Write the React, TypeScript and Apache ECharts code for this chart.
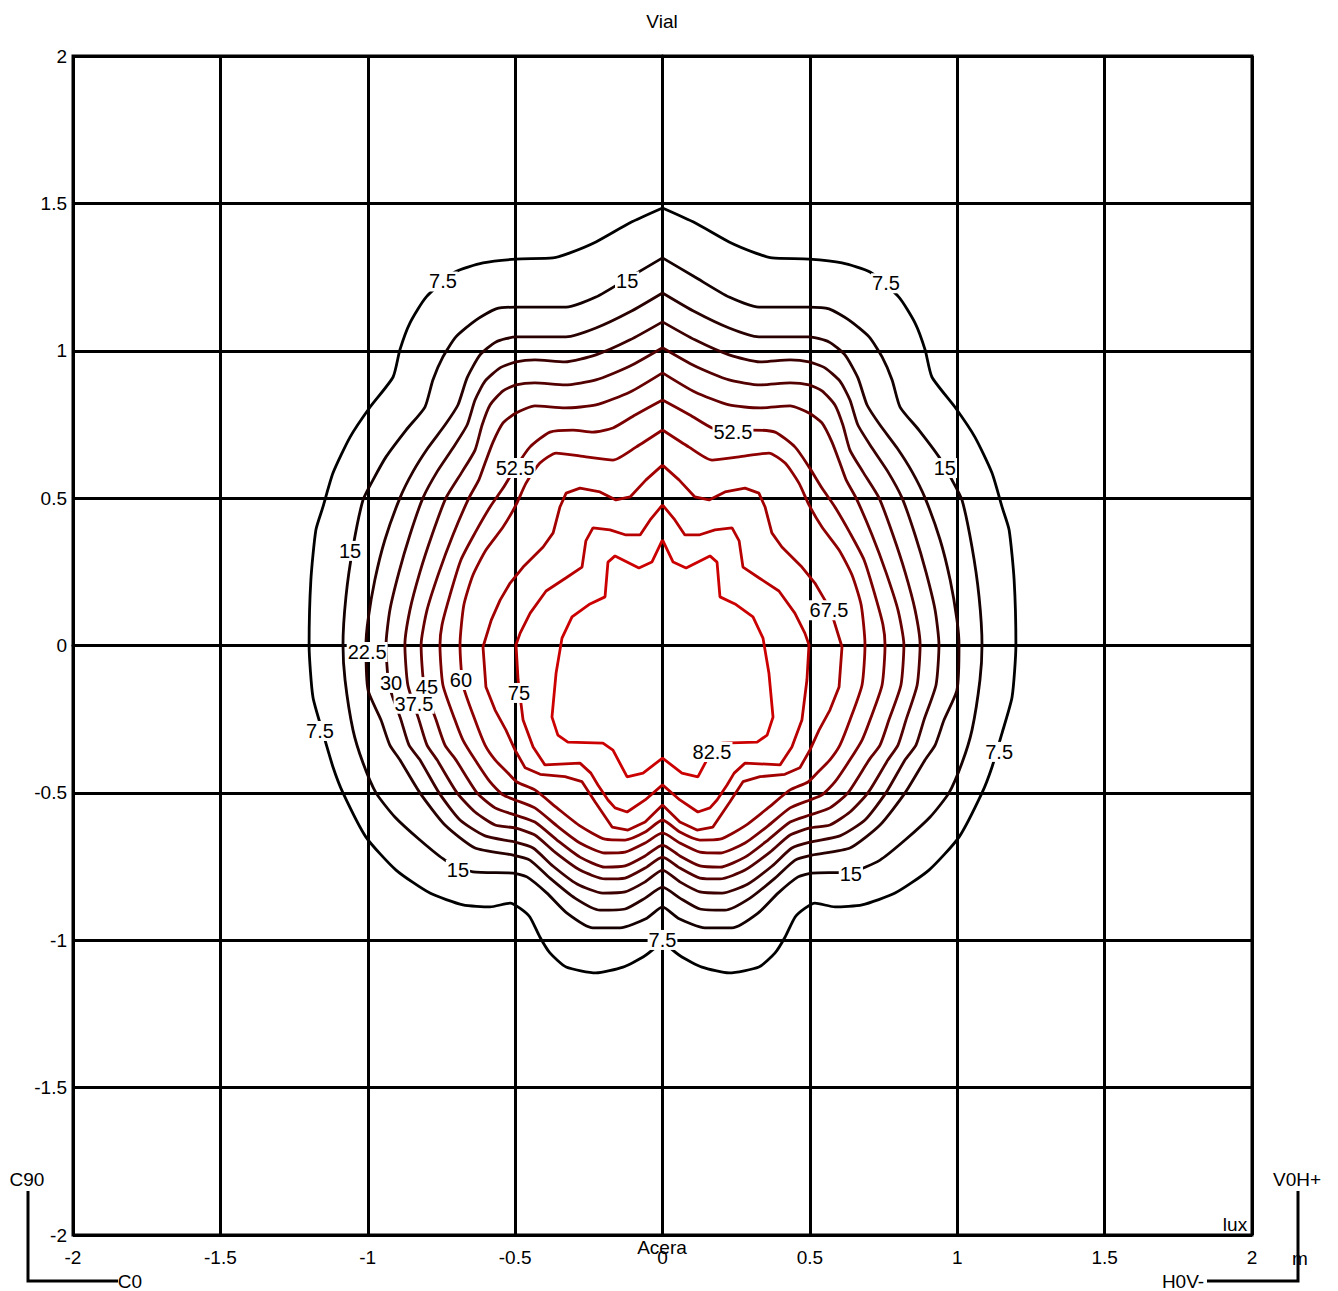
import React, { useEffect, useRef } from "react";
import * as echarts from "echarts";

const LEVELS = ["7.5", "15", "22.5", "30", "37.5", "45", "52.5", "60", "67.5", "75", "82.5"];
const LEVEL_COLORS = ["#000000", "#140000", "#290000", "#3d0000", "#520000", "#660000", "#7a0000", "#8f0000", "#a30000", "#b80000", "#cc0000"];

// right halves (x >= 0), from top point on x=0 clockwise to bottom point on x=0; the plot is symmetric about x=0
const C7_5 = [[0,1.484],[0.110,1.434],[0.226,1.369],[0.314,1.332],[0.372,1.315],[0.497,1.311],[0.609,1.298],[0.704,1.267],[0.802,1.182],[0.857,1.094],[0.891,1.003],[0.914,0.911],[0.992,0.809],[1.060,0.707],[1.118,0.585],[1.152,0.470],[1.176,0.392],[1.193,0.222],[1.199,0.002],[1.186,-0.175],[1.152,-0.297],[1.118,-0.412],[1.084,-0.500],[1.006,-0.650],[0.904,-0.762],[0.789,-0.840],[0.677,-0.880],[0.585,-0.887],[0.517,-0.874],[0.484,-0.891],[0.450,-0.921],[0.416,-0.989],[0.382,-1.043],[0.327,-1.091],[0.226,-1.111],[0.134,-1.091],[0.066,-1.057],[0.019,-1.020],[0,-0.999]];
const C15 = [[0,1.315],[0.110,1.250],[0.226,1.182],[0.327,1.148],[0.395,1.148],[0.497,1.148],[0.565,1.142],[0.633,1.104],[0.701,1.047],[0.745,0.979],[0.779,0.901],[0.806,0.809],[0.870,0.731],[0.938,0.640],[0.982,0.562],[1.016,0.494],[1.050,0.334],[1.074,0.165],[1.084,0.002],[1.077,-0.117],[1.050,-0.287],[1.016,-0.399],[0.972,-0.500],[0.908,-0.582],[0.823,-0.660],[0.738,-0.728],[0.643,-0.768],[0.507,-0.772],[0.460,-0.785],[0.392,-0.840],[0.324,-0.908],[0.236,-0.958],[0.144,-0.958],[0.053,-0.925],[0,-0.887]];
const C22_5 = [[0,1.196],[0.110,1.132],[0.226,1.077],[0.327,1.047],[0.497,1.047],[0.565,1.030],[0.619,0.986],[0.663,0.908],[0.694,0.816],[0.738,0.748],[0.796,0.670],[0.847,0.589],[0.891,0.500],[0.942,0.358],[0.976,0.222],[0.999,0.087],[1.006,0.002],[0.999,-0.151],[0.955,-0.253],[0.925,-0.338],[0.891,-0.388],[0.823,-0.500],[0.738,-0.609],[0.636,-0.687],[0.507,-0.711],[0.450,-0.728],[0.382,-0.789],[0.297,-0.857],[0.212,-0.898],[0.127,-0.894],[0.059,-0.857],[0,-0.820]];
const C30 = [[0,1.098],[0.110,1.037],[0.226,0.986],[0.331,0.962],[0.433,0.969],[0.497,0.962],[0.551,0.942],[0.602,0.897],[0.636,0.833],[0.663,0.748],[0.711,0.670],[0.765,0.589],[0.813,0.500],[0.857,0.375],[0.894,0.249],[0.925,0.120],[0.938,0.002],[0.928,-0.134],[0.887,-0.253],[0.860,-0.338],[0.823,-0.388],[0.758,-0.500],[0.687,-0.592],[0.602,-0.646],[0.500,-0.667],[0.439,-0.687],[0.372,-0.748],[0.290,-0.809],[0.202,-0.840],[0.127,-0.836],[0.059,-0.802],[0,-0.762]];
const C37_5 = [[0,1.010],[0.110,0.948],[0.226,0.901],[0.331,0.884],[0.433,0.891],[0.497,0.884],[0.541,0.864],[0.585,0.816],[0.612,0.748],[0.636,0.663],[0.680,0.589],[0.735,0.500],[0.782,0.375],[0.823,0.249],[0.857,0.120],[0.874,0.002],[0.864,-0.134],[0.826,-0.253],[0.799,-0.338],[0.765,-0.388],[0.697,-0.500],[0.636,-0.565],[0.568,-0.609],[0.500,-0.619],[0.433,-0.643],[0.365,-0.701],[0.280,-0.762],[0.195,-0.792],[0.127,-0.789],[0.059,-0.755],[0,-0.718]];
const C45 = [[0,0.925],[0.110,0.860],[0.226,0.816],[0.331,0.806],[0.433,0.813],[0.497,0.789],[0.541,0.755],[0.575,0.690],[0.602,0.619],[0.623,0.562],[0.657,0.500],[0.711,0.375],[0.758,0.249],[0.799,0.120],[0.819,0.002],[0.809,-0.134],[0.768,-0.253],[0.738,-0.338],[0.701,-0.388],[0.629,-0.500],[0.568,-0.551],[0.500,-0.575],[0.433,-0.599],[0.358,-0.660],[0.280,-0.718],[0.195,-0.752],[0.127,-0.748],[0.059,-0.714],[0,-0.677]];
const C52_5 = [[0,0.833],[0.093,0.782],[0.168,0.738],[0.236,0.724],[0.304,0.731],[0.382,0.724],[0.450,0.673],[0.497,0.606],[0.541,0.534],[0.585,0.470],[0.636,0.382],[0.684,0.290],[0.721,0.171],[0.748,0.070],[0.755,0.002],[0.745,-0.134],[0.704,-0.253],[0.677,-0.321],[0.636,-0.388],[0.585,-0.463],[0.541,-0.507],[0.500,-0.524],[0.433,-0.551],[0.358,-0.612],[0.280,-0.670],[0.195,-0.704],[0.127,-0.701],[0.059,-0.670],[0,-0.636]];
const C60 = [[0,0.731],[0.090,0.673],[0.168,0.629],[0.260,0.640],[0.361,0.653],[0.416,0.619],[0.463,0.551],[0.497,0.477],[0.541,0.402],[0.599,0.324],[0.643,0.239],[0.674,0.137],[0.687,0.002],[0.677,-0.134],[0.636,-0.253],[0.602,-0.338],[0.568,-0.388],[0.528,-0.429],[0.494,-0.463],[0.433,-0.490],[0.358,-0.551],[0.280,-0.612],[0.195,-0.657],[0.127,-0.660],[0.059,-0.633],[0,-0.592]];
const C67_5 = [[0,0.612],[0.056,0.562],[0.110,0.504],[0.158,0.494],[0.212,0.521],[0.280,0.534],[0.327,0.517],[0.348,0.470],[0.371,0.382],[0.405,0.334],[0.473,0.266],[0.517,0.212],[0.551,0.154],[0.581,0.086],[0.609,-0.005],[0.599,-0.141],[0.568,-0.219],[0.531,-0.287],[0.500,-0.355],[0.466,-0.415],[0.415,-0.437],[0.331,-0.445],[0.273,-0.462],[0.229,-0.530],[0.171,-0.616],[0.117,-0.626],[0.059,-0.599],[0,-0.541]];
const C75 = [[0,0.477],[0.042,0.426],[0.076,0.375],[0.124,0.375],[0.178,0.392],[0.236,0.399],[0.260,0.355],[0.273,0.266],[0.328,0.229],[0.395,0.185],[0.449,0.110],[0.483,0.042],[0.497,0.002],[0.490,-0.117],[0.473,-0.253],[0.439,-0.344],[0.399,-0.405],[0.280,-0.399],[0.243,-0.433],[0.219,-0.473],[0.185,-0.524],[0.161,-0.551],[0.120,-0.565],[0.059,-0.524],[0,-0.473]];
const C82_5 = [[0,0.358],[0.036,0.283],[0.080,0.263],[0.161,0.304],[0.185,0.283],[0.195,0.165],[0.246,0.141],[0.307,0.097],[0.341,0.025],[0.361,-0.093],[0.375,-0.243],[0.355,-0.304],[0.321,-0.328],[0.202,-0.331],[0.168,-0.355],[0.120,-0.446],[0.066,-0.433],[0,-0.382]];
const CONTOUR_HALVES = [C7_5, C15, C22_5, C30, C37_5, C45, C52_5, C60, C67_5, C75, C82_5];

// contour labels
const LABEL_TEXT = ["15", "22.5", "30", "45", "60", "37.5", "75", "7.5", "52.5", "7.5", "15", "15", "7.5", "52.5", "7.5", "15", "67.5", "82.5", "7.5", "15"];
const LABEL_X = [-1.060, -1.002, -0.921, -0.799, -0.684, -0.843, -0.487, -1.162, -0.500, -0.745, -0.120, -0.694, 0.0, 0.239, 0.758, 0.958, 0.565, 0.168, 1.142, 0.639];
const LABEL_Y = [0.321, -0.022, -0.127, -0.141, -0.117, -0.198, -0.161, -0.290, 0.602, 1.235, 1.235, -0.761, -0.999, 0.724, 1.229, 0.602, 0.120, -0.361, -0.361, -0.774];

const AXIS_MIN = -2;
const AXIS_MAX = 2;
const AXIS_STEP = 0.5;

const FONT = '"Liberation Sans", Arial, Helvetica, sans-serif';

function fullLoop(half: number[][]): number[][] {
  const left = half.slice(0, -1).reverse().map(([x, y]) => [-x, y]);
  return [...half, ...left];
}

export default function App() {
  const ref = useRef<HTMLDivElement>(null);
  useEffect(() => {
    if (!ref.current) return;
    const chart = echarts.init(ref.current, undefined, { renderer: "svg" });
    const lineSeries = CONTOUR_HALVES.map((half, i) => ({
      type: "line",
      name: LEVELS[i],
      data: fullLoop(half),
      showSymbol: false,
      symbol: "none",
      smooth: i < 8 ? 0.2 : false,
      lineStyle: { color: LEVEL_COLORS[i], width: 2.8, opacity: 1 },
      z: 3,
      silent: true,
    }));
    const labelSeries = {
      type: "scatter",
      symbolSize: 0.1,
      itemStyle: { color: "#ffffff", opacity: 1 },
      z: 6,
      silent: true,
      data: LABEL_TEXT.map((t, i) => ({ name: t, value: [LABEL_X[i], LABEL_Y[i]] })),
      label: {
        show: true,
        position: "inside",
        formatter: "{b}",
        color: "#000000",
        opacity: 1,
        fontFamily: FONT,
        fontSize: 20,
        backgroundColor: "#ffffff",
        textBorderWidth: 0,
        textBorderColor: "transparent",
        padding: [0, 1],
      },
    };
    const axisCommon = {
      type: "value",
      min: AXIS_MIN,
      max: AXIS_MAX,
      interval: AXIS_STEP,
      axisTick: { show: false },
      axisLine: { show: true, lineStyle: { color: "#000", width: 3 } },
      splitLine: { show: true, lineStyle: { color: "#000", width: 3 } },
    };
    const txt = (text: string, x: number, y: number, align = "center") => ({
      type: "text",
      x,
      y,
      silent: true,
      style: { text, fill: "#000", font: `19px ${FONT}`, textAlign: align, textVerticalAlign: "middle" },
      z: 10,
    });
    chart.setOption({
      animation: false,
      backgroundColor: "#fff",
      grid: { left: 73, right: 86, top: 56, bottom: 56, show: true, borderColor: "#000", borderWidth: 3 },
      xAxis: {
        ...axisCommon,
        axisLabel: { color: "#000", fontFamily: FONT, fontSize: 19, margin: 13 },
      },
      yAxis: {
        ...axisCommon,
        axisLabel: { color: "#000", fontFamily: FONT, fontSize: 19, margin: 6 },
      },
      series: [...lineSeries, labelSeries],
      graphic: [
        txt("Vial", 662, 21),
        txt("Acera", 662, 1247),
        txt("lux", 1235, 1224),
        txt("m", 1300, 1258),
        txt("C90", 27, 1179),
        txt("C0", 130, 1281),
        txt("V0H+", 1297, 1179),
        txt("H0V-", 1183, 1281),
        {
          type: "polyline",
          silent: true,
          shape: { points: [[28, 1191], [28, 1281], [118, 1281]] },
          style: { stroke: "#000", lineWidth: 3, fill: null },
        },
        {
          type: "polyline",
          silent: true,
          shape: { points: [[1207, 1281], [1298, 1281], [1298, 1191]] },
          style: { stroke: "#000", lineWidth: 3, fill: null },
        },
      ],
    });
    return () => chart.dispose();
  }, []);
  return (
    <div
      ref={ref}
      style={{ position: "fixed", left: 0, top: 0, width: 1338, height: 1291, background: "#fff" }}
    />
  );
}
